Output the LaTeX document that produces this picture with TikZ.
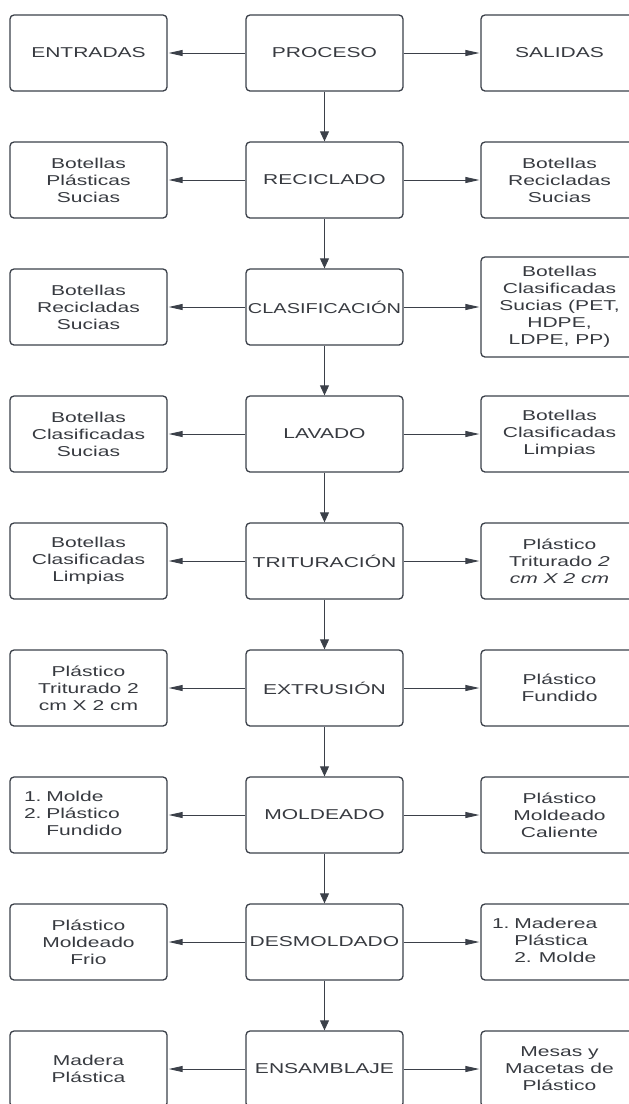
\documentclass[tikz,border=0pt]{standalone}
\usepackage{fontspec}
\setmainfont[FakeStretch=1.47]{Liberation Sans}
\usetikzlibrary{arrows.meta}

\definecolor{lineclr}{RGB}{59,64,73}
\definecolor{textclr}{RGB}{55,58,64}

\begin{document}
\begin{tikzpicture}[
  stagebox/.style={draw=lineclr, line width=1.3pt, rounded corners=4pt, shape=rectangle,
    minimum width=157pt, minimum height=76pt, inner xsep=0pt, align=center,
    text=textclr, font=\fontsize{14.3}{17}\selectfont},
  listbox/.style={stagebox, align=left},
  harrow/.style={draw=lineclr, line width=0.9pt, -{Triangle[length=14pt,width=6pt]}, shorten >=1pt},
  varrow/.style={draw=lineclr, line width=0.9pt, -{Triangle[length=10pt,width=9pt]}}
]
\useasboundingbox (0,0) rectangle (629pt,-1104pt);
\clip (0,0) rectangle (629pt,-1104pt);

% encabezado
\node [stagebox] (entradas) at (88.5pt, -53pt) {ENTRADAS};
\node [stagebox] (proceso)  at (324.5pt, -53pt) {PROCESO};
\node [stagebox] (salidas)  at (559.5pt, -53pt) {SALIDAS};

\node [stagebox] (reciclado-in)  at (88.5pt, -180pt) {Botellas\\Plásticas\\Sucias};
\node [stagebox] (reciclado)     at (324.5pt, -180pt) {RECICLADO};
\node [stagebox] (reciclado-out) at (559.5pt, -180pt) {Botellas\\Recicladas\\Sucias};

\node [stagebox] (clasif-in)  at (88.5pt, -307pt) {Botellas\\Recicladas\\Sucias};
\node [stagebox] (clasif)     at (324.5pt, -307pt) {\scalebox{0.95}[1]{CLASIFICACIÓN}};
\node [stagebox, minimum height=100pt] (clasif-out) at (559.5pt, -307pt)
  {Botellas\\Clasificadas\\Sucias (PET,\\HDPE,\\LDPE, PP)};

\node [stagebox] (lavado-in)  at (88.5pt, -434pt) {Botellas\\Clasificadas\\Sucias};
\node [stagebox] (lavado)     at (324.5pt, -434pt) {LAVADO};
\node [stagebox] (lavado-out) at (559.5pt, -434pt) {Botellas\\Clasificadas\\Limpias};

\node [stagebox] (tritur-in)  at (88.5pt, -561pt) {Botellas\\Clasificadas\\Limpias};
\node [stagebox] (tritur)     at (324.5pt, -561pt) {TRITURACIÓN};
\node [stagebox] (tritur-out) at (559.5pt, -561pt) {Plástico\\Triturado \textit{2}\\\textit{cm X 2 cm}};

\node [stagebox] (extrus-in)  at (88.5pt, -688pt) {Plástico\\Triturado 2\\cm X 2 cm};
\node [stagebox] (extrus)     at (324.5pt, -688pt) {EXTRUSIÓN};
\node [stagebox] (extrus-out) at (559.5pt, -688pt) {Plástico\\Fundido};

\node [listbox, inner xsep=14pt, text width=129pt] (molde-in) at (88.5pt, -815pt)
  {\begin{tabular}{@{}l@{\ }l@{}}1. & Molde\\2. & Plástico\\ & Fundido\end{tabular}};
\node [stagebox] (molde)     at (324.5pt, -815pt) {MOLDEADO};
\node [stagebox] (molde-out) at (559.5pt, -815pt) {Plástico\\Moldeado\\Caliente};

\node [stagebox] (desmol-in)  at (88.5pt, -942pt) {Plástico\\Moldeado\\Frio};
\node [stagebox] (desmol)     at (324.5pt, -942pt) {DESMOLDADO};
\node [listbox, inner xsep=11pt, text width=135pt] (desmol-out) at (559.5pt, -942pt)
  {\begin{tabular}{@{}l@{\ }l@{}}1. & Maderea\\ & Plástica\\ & 2. Molde\end{tabular}};

\node [stagebox] (ensam-in)  at (88.5pt, -1069pt) {Madera\\Plástica};
\node [stagebox] (ensam)     at (324.5pt, -1069pt) {ENSAMBLAJE};
\node [stagebox] (ensam-out) at (559.5pt, -1069pt) {Mesas y\\Macetas de\\Plástico};

% flechas
\draw [harrow] (proceso) -- (entradas);
\draw [harrow] (proceso) -- (salidas);
\foreach \p in {reciclado, clasif, lavado, tritur, extrus, molde, desmol, ensam}{
  \draw [harrow] (\p) -- (\p-in);
  \draw [harrow] (\p) -- (\p-out);
}
\draw [varrow] (proceso) -- (reciclado);
\draw [varrow] (reciclado) -- (clasif);
\draw [varrow] (clasif) -- (lavado);
\draw [varrow] (lavado) -- (tritur);
\draw [varrow] (tritur) -- (extrus);
\draw [varrow] (extrus) -- (molde);
\draw [varrow] (molde) -- (desmol);
\draw [varrow] (desmol) -- (ensam);
\end{tikzpicture}
\end{document}
